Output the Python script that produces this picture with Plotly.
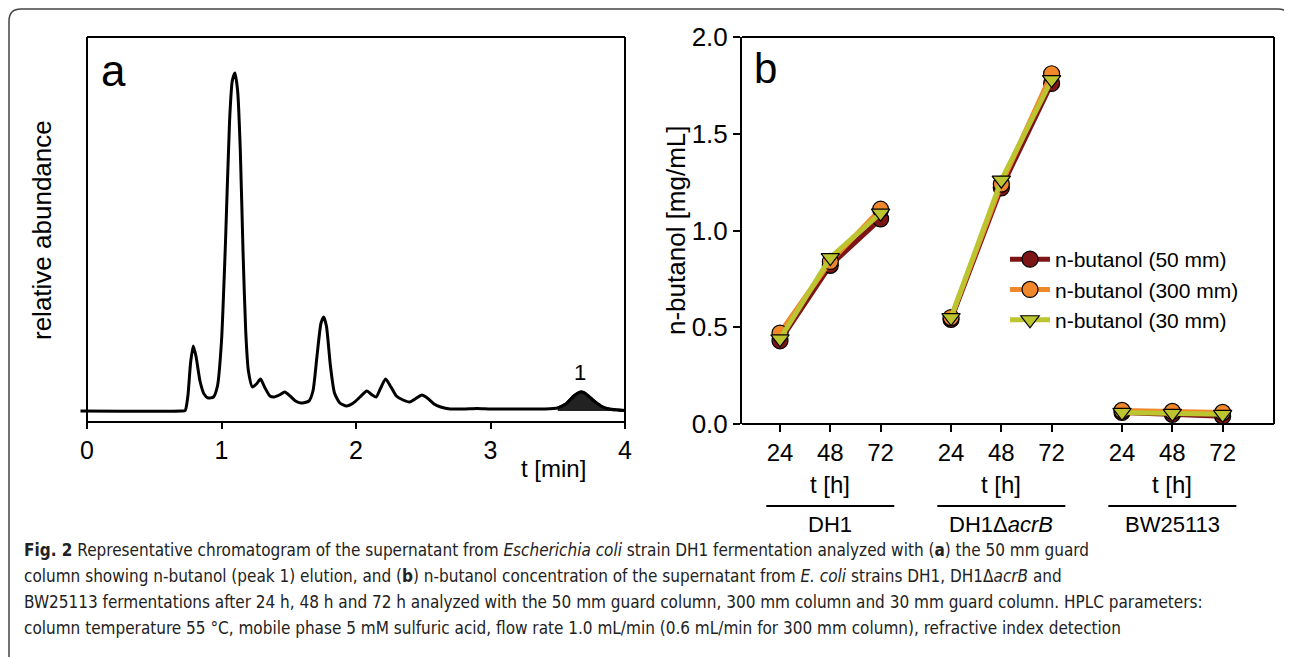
import plotly.graph_objects as go

W, H = 1292, 657
OFF = 8  # page body margin in the browser

# panel a - chromatogram (t in min, signal in a.u.)
chrom_t = [-0.05, 0.70, 0.73, 0.75, 0.77, 0.79, 0.81, 0.84, 0.87, 0.90, 0.94, 0.97,
           1.00, 1.03, 1.06, 1.08, 1.10, 1.12, 1.14, 1.16, 1.18, 1.20, 1.23, 1.26,
           1.29, 1.32, 1.36, 1.39, 1.43, 1.47, 1.51, 1.55, 1.59, 1.65, 1.68, 1.71,
           1.74, 1.76, 1.78, 1.81, 1.84, 1.88, 1.93, 1.98, 2.03, 2.08, 2.12, 2.15,
           2.18, 2.22, 2.26, 2.30, 2.35, 2.40, 2.44, 2.49, 2.53, 2.58, 2.63, 2.70,
           2.80, 2.90, 3.00, 3.20, 3.40, 3.50, 3.56, 3.62, 3.67, 3.70, 3.76, 3.82,
           3.88, 3.95, 4.00]
chrom_y = [0, 0, 0.5, 15, 48, 65, 55, 30, 17, 13, 14, 25,
           70, 170, 290, 330, 338, 320, 260, 160, 80, 40, 24, 27,
           32, 24, 15, 14, 16, 19, 15, 10, 8, 10, 20, 55,
           88, 94, 85, 45, 18, 8, 5, 8, 14, 20, 16, 14,
           22, 32, 24, 15, 11, 9, 12, 16, 13, 7, 4, 2,
           2, 2.5, 2, 2, 2, 3, 7, 15, 19, 18, 11, 5,
           2, 1, 0.5]
peak1_start = 3.50

# panel b - n-butanol concentrations
strains = ["DH1", "DH1Δ<i>acrB</i>", "BW25113"]
hours = ["24", "48", "72"]
butanol_50 = [[0.43, 0.82, 1.06], [0.54, 1.22, 1.76], [0.06, 0.05, 0.04]]
butanol_300 = [[0.47, 0.84, 1.11], [0.55, 1.24, 1.81], [0.07, 0.065, 0.06]]
butanol_30 = [[0.44, 0.86, 1.09], [0.55, 1.26, 1.78], [0.06, 0.055, 0.05]]

caption = [
    "<b>Fig. 2</b> Representative chromatogram of the supernatant from <i>Escherichia coli</i> strain DH1 fermentation analyzed with (<b>a</b>) the 50 mm guard",
    "column showing n-butanol (peak 1) elution, and (<b>b</b>) n-butanol concentration of the supernatant from <i>E. coli</i> strains DH1, DH1Δ<i>acrB</i> and",
    "BW25113 fermentations after 24 h, 48 h and 72 h analyzed with the 50 mm guard column, 300 mm column and 30 mm guard column. HPLC parameters:",
    "column temperature 55 °C, mobile phase 5 mM sulfuric acid, flow rate 1.0 mL/min (0.6 mL/min for 300 mm column), refractive index detection",
]


def px(x):
    return (x - OFF) / W


def py(y):
    return 1 - (y - OFF) / H


FONT = "Liberation Sans, Arial, sans-serif"
CAPFONT = "Liberation Sans Narrow, DejaVu Sans Condensed, Roboto Condensed, Liberation Sans, sans-serif"

GAP = 1.4  # spacing between strain groups on panel b
xpos = [g * (len(hours) - 1 + GAP) + i for g in range(len(strains)) for i in range(len(hours))]
B0, BS = 780, 50.3  # pixel of first point and per-step


def bx(p):
    return B0 + BS * p


fig = go.Figure()

# chromatogram
fig.add_trace(go.Scatter(x=chrom_t, y=chrom_y, mode="lines", line=dict(color="black", width=3, shape="spline", smoothing=0.6),
                         xaxis="x", yaxis="y", showlegend=False, hoverinfo="skip"))
pk_t = [t for t in chrom_t if t >= peak1_start]
pk_y = [v for t, v in zip(chrom_t, chrom_y) if t >= peak1_start]
fig.add_trace(go.Scatter(x=pk_t, y=pk_y, mode="lines", fill="tozeroy", fillcolor="#222222",
                         line=dict(color="black", width=3, shape="spline", smoothing=0.6),
                         xaxis="x", yaxis="y", showlegend=False, hoverinfo="skip"))


def flat(series):
    xs, ys = [], []
    for g, vals in enumerate(series):
        for i, v in enumerate(vals):
            xs.append(xpos[g * len(hours) + i])
            ys.append(v)
        xs.append(None)
        ys.append(None)
    return xs, ys


for name, series, col, sym in [("n-butanol (50 mm)", butanol_50, "#7d1517", "circle"),
                               ("n-butanol (300 mm)", butanol_300, "#f0872a", "circle"),
                               ("n-butanol (30 mm)", butanol_30, "#bcc42f", "triangle-down")]:
    xs, ys = flat(series)
    fig.add_trace(go.Scatter(x=xs, y=ys, mode="lines+markers", name=name, connectgaps=False,
                             line=dict(color=col, width=5),
                             marker=dict(symbol=sym, size=16, color=col, line=dict(color="black", width=1.2)),
                             xaxis="x2", yaxis="y2", cliponaxis=False))

# axes
a_left, a_right, a_top, a_bot = 87, 625, 37, 422
a_x0 = -0.05
a_scale = (a_right - a_left) / 4.0
b_left, b_right, b_top, b_bot = 742, 1274, 37, 424

fig.update_layout(
    width=W, height=H, margin=dict(l=0, r=0, t=0, b=0, autoexpand=False),
    paper_bgcolor="white", plot_bgcolor="white",
    font=dict(family=FONT, color="black", size=24),
    xaxis=dict(domain=[px(a_left + a_x0 * a_scale), px(a_right)], range=[a_x0, 4.0],
               tickvals=[0, 1, 2, 3, 4], ticks="outside", ticklen=6, tickwidth=2, tickcolor="black",
               showline=False, showgrid=False, zeroline=False, tickfont=dict(size=25), automargin=False),
    yaxis=dict(domain=[py(a_bot), py(a_top)], range=[-11, 374], visible=False, automargin=False),
    xaxis2=dict(domain=[px(b_left), px(b_right)], range=[(b_left - B0) / BS, (b_right - B0) / BS],
                tickvals=xpos, ticktext=hours * len(strains), ticks="outside", ticklen=7, tickwidth=2,
                tickcolor="black", showline=False, showgrid=False, zeroline=False, anchor="y2",
                tickfont=dict(size=24), automargin=False),
    yaxis2=dict(domain=[py(b_bot), py(b_top)], range=[0, 2.0], tickvals=[0, 0.5, 1.0, 1.5, 2.0],
                tickformat=".1f", ticks="outside", ticklen=7, tickwidth=2, tickcolor="black",
                showline=True, linewidth=2, linecolor="black", showgrid=False, zeroline=False,
                anchor="x2", tickfont=dict(size=26), automargin=False),
    legend=dict(x=px(1005), y=py(239), xanchor="left", yanchor="top", font=dict(size=21),
                bgcolor="rgba(0,0,0,0)", itemwidth=40, tracegroupgap=0),
)

shapes = []


def seg(x0, y0, x1, y1, w=2, c="black"):
    shapes.append(dict(type="line", xref="paper", yref="paper", x0=px(x0), y0=py(y0), x1=px(x1), y1=py(y1),
                       line=dict(color=c, width=w)))


# panel a box
seg(a_left, a_top, a_left, a_bot + 5)
seg(a_left, a_top, a_right, a_top)
seg(a_right, a_top, a_right, a_bot + 5)
seg(a_left, a_bot, a_right, a_bot)
# panel b box
seg(b_left, b_top, b_right, b_top)
seg(b_right, b_top, b_right, b_bot)
seg(b_left, b_bot, b_right, b_bot)
# strain underlines
for g in range(len(strains)):
    c = xpos[g * len(hours) + 1]
    seg(bx(c) - 64, 506, bx(c) + 64, 506)

# caption frame with rounded top corners
r = 12
fx0, fx1, fy0, fy1 = 9, 1290, 9, 680
path = (f"M {px(fx0)} {py(fy1)} L {px(fx0)} {py(fy0 + r)} Q {px(fx0)} {py(fy0)} {px(fx0 + r)} {py(fy0)} "
        f"L {px(fx1 - r)} {py(fy0)} Q {px(fx1)} {py(fy0)} {px(fx1)} {py(fy0 + r)} L {px(fx1)} {py(fy1)}")
shapes.append(dict(type="path", xref="paper", yref="paper", path=path, line=dict(color="#444444", width=1.5)))
fig.update_layout(shapes=shapes)

ann = []


def txt(x, y, s, size, **kw):
    d = dict(xref="paper", yref="paper", x=px(x), y=py(y), text=s, showarrow=False,
             font=dict(family=FONT, size=size, color="black"), xanchor="center", yanchor="middle")
    d.update(kw)
    ann.append(d)


txt(113, 70, "a", 44)
txt(580, 372, "1", 22)
txt(553, 468, "t [min]", 24)
txt(42, 230, "relative abundance", 26, textangle=-90)
txt(765, 68, "b", 42)
txt(676, 230, "n-butanol [mg/mL]", 26, textangle=-90)
for g, s in enumerate(strains):
    c = bx(xpos[g * len(hours) + 1])
    txt(c, 484, "t [h]", 24)
    txt(c, 524, s, 22)

cap_y = [550, 576, 602, 628]
for yy, line in zip(cap_y, caption):
    ann.append(dict(xref="paper", yref="paper", x=px(22), y=py(yy), text=line, showarrow=False,
                    xanchor="left", yanchor="middle", font=dict(family=CAPFONT, size=17, color="#222222")))

fig.update_layout(annotations=ann)

fig.write_html("out.html")
